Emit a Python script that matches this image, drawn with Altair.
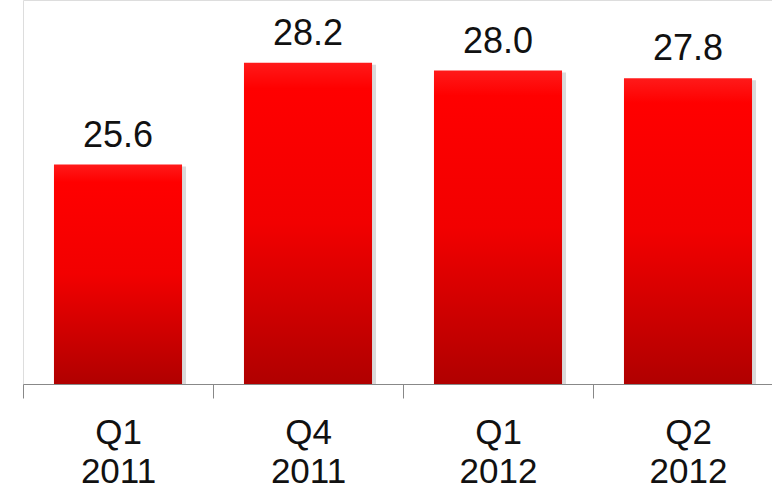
import altair as alt
import pandas as pd

categories = ["Q1 2011", "Q4 2011", "Q1 2012", "Q2 2012"]
values = [25.6, 28.2, 28.0, 27.8]
value_labels = ["25.6", "28.2", "28.0", "27.8"]

df = pd.DataFrame({"cat": categories, "val": values, "lbl": value_labels})

FONT = "Liberation Sans"

xscale = alt.Scale(domain=categories, range=[0, 760], paddingInner=0.326, paddingOuter=0.163)
yscale = alt.Scale(domain=[20, 29.8], nice=False, zero=False)

x_enc = alt.X("cat:N", scale=xscale, sort=categories, title=None,
              axis=alt.Axis(labelAngle=0, labelFont=FONT, labelFontSize=35, labelColor="#111111",
                            labelExpr="split(datum.label, ' ')", labelLineHeight=39,
                            labelPadding=17, tickSize=14, tickColor="#888888", domainColor="#888888",
                            tickOffset=-95, labelOffset=95, grid=False, labelBaseline="top"))

gradient = alt.Gradient(
    gradient="linear", x1=0, y1=0, x2=0, y2=1,
    stops=[alt.GradientStop(color="#ff1a1a", offset=0),
           alt.GradientStop(color="#ff0000", offset=0.08),
           alt.GradientStop(color="#f20000", offset=0.5),
           alt.GradientStop(color="#b00000", offset=1)])

shadow = alt.Chart(df).mark_bar(color="#555555", opacity=0.22, xOffset=4, yOffset=2).encode(
    x=x_enc,
    y=alt.Y("val:Q", scale=yscale, axis=None),
    y2=alt.datum(20),
)

bars = alt.Chart(df).mark_bar(color=gradient).encode(
    x=x_enc,
    y=alt.Y("val:Q", scale=yscale, axis=None),
    y2=alt.datum(20),
)

text = alt.Chart(df).mark_text(font=FONT, fontSize=36, color="#111111", baseline="alphabetic", dy=-18).encode(
    x=x_enc,
    y=alt.Y("val:Q", scale=yscale, axis=None),
    text="lbl:N",
)

chart = alt.layer(shadow, bars, text).properties(
    width=749, height=384,
    autosize=alt.AutoSizeParams(type="none"),
    padding={"left": 23, "top": 0, "right": 0, "bottom": 104},
).configure_view(stroke=None).configure(background="white")

chart.save("out.html", embed_options={"renderer": "svg", "actions": False})
